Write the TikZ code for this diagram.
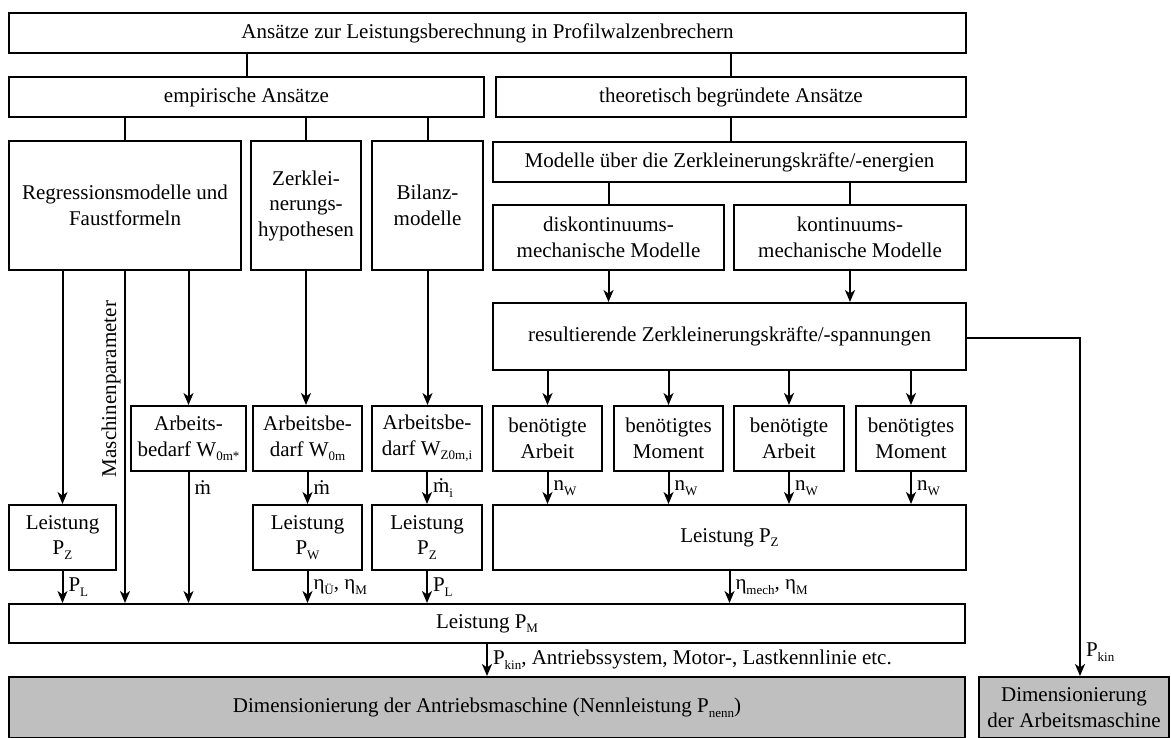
\documentclass[tikz,border=0pt]{standalone}
\usepackage{fontspec}
\setmainfont{Liberation Serif}
\usetikzlibrary{arrows.meta}
\newcommand\fs{\fontsize{21}{25.5}\selectfont}
\newcommand\sbs[1]{\raisebox{-0.22em}{\fontsize{13}{13}\selectfont #1}}
% box given by its corners (x1,y1) and (x2,y2)
\newcommand\boxat[7][]{\node[box,#1, minimum width={(#5)-(#3)}, minimum height={(#6)-(#4)}] (#2) at ({((#3)+(#5))/2},{((#4)+(#6))/2}) {#7};}
\begin{document}
\begin{tikzpicture}[x=1pt,y=-1pt,
  box/.style={draw, line width=2pt, inner sep=1pt, align=center, font=\fs},
  grey/.style={fill=gray!50},
  ln/.style={line width=2pt},
  arr/.style={ln, -{Stealth[length=12pt,width=10pt,inset=3.5pt]}},
  lbl/.style={font=\fs, right, inner sep=1pt, xshift=4pt}]
\useasboundingbox (0,0) rectangle (1171,738);

% hierarchy of approaches
\boxat{top}{9}{13}{966}{53}{Ansätze zur Leistungsberechnung in Profilwalzenbrechern}
\boxat{emp}{9}{77}{484}{117}{empirische Ansätze}
\boxat{theo}{496}{77}{966}{117}{theoretisch begründete Ansätze}

% empirical branch
\boxat{reg}{9}{141}{241}{270}{Regressionsmodelle und\\Faustformeln}
\boxat{zer}{251}{141}{361}{270}{Zerklei-\\nerungs-\\hypothesen}
\boxat{bil}{372}{141}{483}{270}{Bilanz-\\modelle}
\boxat{arbA}{131}{406}{246}{471}{Arbeits-\\bedarf W\sbs{0m*}}
\boxat{arbB}{253}{406}{362}{471}{Arbeitsbe-\\darf W\sbs{0m}}
\boxat{arbC}{372}{406}{482}{471}{Arbeitsbe-\\darf W\sbs{Z0m,i}}
\boxat{lpA}{9}{505}{116}{570}{Leistung\\P\sbs{Z}}
\boxat{lpB}{253}{505}{362}{570}{Leistung\\P\sbs{W}}
\boxat{lpC}{372}{505}{482}{570}{Leistung\\P\sbs{Z}}

% theoretical branch
\boxat{mod}{493}{142}{966}{182}{Modelle über die Zerkleinerungskräfte/-energien}
\boxat{disk}{493}{205}{724}{270}{diskontinuums-\\mechanische Modelle}
\boxat{kont}{734}{205}{966}{270}{kontinuums-\\mechanische Modelle}
\boxat{res}{493}{303}{966}{370}{resultierende Zerkleinerungskräfte/-spannungen}
\boxat{benA}{493}{406}{602}{471}{benötigte\\Arbeit}
\boxat{benB}{614}{406}{723}{471}{benötigtes\\Moment}
\boxat{benC}{734}{406}{844}{471}{benötigte\\Arbeit}
\boxat{benD}{856}{406}{966}{471}{benötigtes\\Moment}
\boxat{lpz}{493}{505}{966}{570}{Leistung P\sbs{Z}}

% results
\boxat{pm}{9}{604}{965}{643}{Leistung P\sbs{M}}
\boxat[grey]{dim}{9}{677}{965}{738}{Dimensionierung der Antriebsmaschine (Nennleistung P\sbs{nenn})}
\boxat[grey]{dimA}{979}{677}{1169}{738}{Dimensionierung\\der Arbeitsmaschine}

% plain links
\draw[ln] (top.south -| emp) -- (emp.north);
\draw[ln] (top.south -| theo) -- (theo.north);
\draw[ln] (emp.south -| reg) -- (reg.north);
\draw[ln] (emp.south -| zer) -- (zer.north);
\draw[ln] (emp.south -| bil) -- (bil.north);
\draw[ln] (theo.south) -- (theo.south |- mod.north);
\draw[ln] (mod.south -| disk) -- (disk.north);
\draw[ln] (mod.south -| kont) -- (kont.north);

% empirical arrows
\draw[arr] (reg.south -| lpA) -- (lpA.north);
\draw[arr] (reg.south) -- (reg.south |- pm.north);
\node[font=\fs, rotate=90, anchor=base, inner sep=0pt] (mpar) at (116,389) {Maschinenparameter};
\draw[arr] (reg.south -| arbA) -- (arbA.north);
\draw[arr] (arbA.south) -- node[lbl, pos=0.12, name=mdA] {\.{m}} (arbA.south |- pm.north);
\draw[arr] (zer.south) -- (zer.south |- arbB.north);
\draw[arr] (arbB.south) -- node[lbl, midway, name=mdB] {\.{m}} (lpB.north);
\draw[arr] (bil.south) -- (bil.south |- arbC.north);
\draw[arr] (arbC.south) -- node[lbl, midway, name=mdC] {\.{m}\sbs{i}} (lpC.north);
\draw[arr] (lpA.south) -- node[lbl, midway, name=plA] {P\sbs{L}} (lpA.south |- pm.north);
\draw[arr] (lpB.south) -- node[lbl, midway, name=etaB] {η\sbs{Ü}, η\sbs{M}} (lpB.south |- pm.north);
\draw[arr] (lpC.south) -- node[lbl, midway, name=plC] {P\sbs{L}} (lpC.south |- pm.north);

% theoretical arrows
\draw[arr] (disk.south) -- (disk.south |- res.north);
\draw[arr] (kont.south) -- (kont.south |- res.north);
\foreach \b in {benA,benB,benC,benD}{
  \draw[arr] (res.south -| \b) -- (\b.north);
  \draw[arr] (\b.south) -- node[lbl, midway, name=nw\b] {n\sbs{W}} (\b.south |- lpz.north);
}
\draw[arr] (lpz.south) -- node[lbl, midway, name=etaZ] {η\sbs{mech}, η\sbs{M}} (lpz.south |- pm.north);

% towards the machine design
\draw[arr] (pm.south) -- node[lbl, midway, name=pkinA] {P\sbs{kin}, Antriebssystem, Motor-, Lastkennlinie etc.} (dim.north);
\coordinate (bend) at (1080,338);
\draw[arr] (res.east |- bend) -- (bend) -- node[lbl, pos=0.93, name=pkinB] {P\sbs{kin}} (bend |- dimA.north);
\end{tikzpicture}
\end{document}
